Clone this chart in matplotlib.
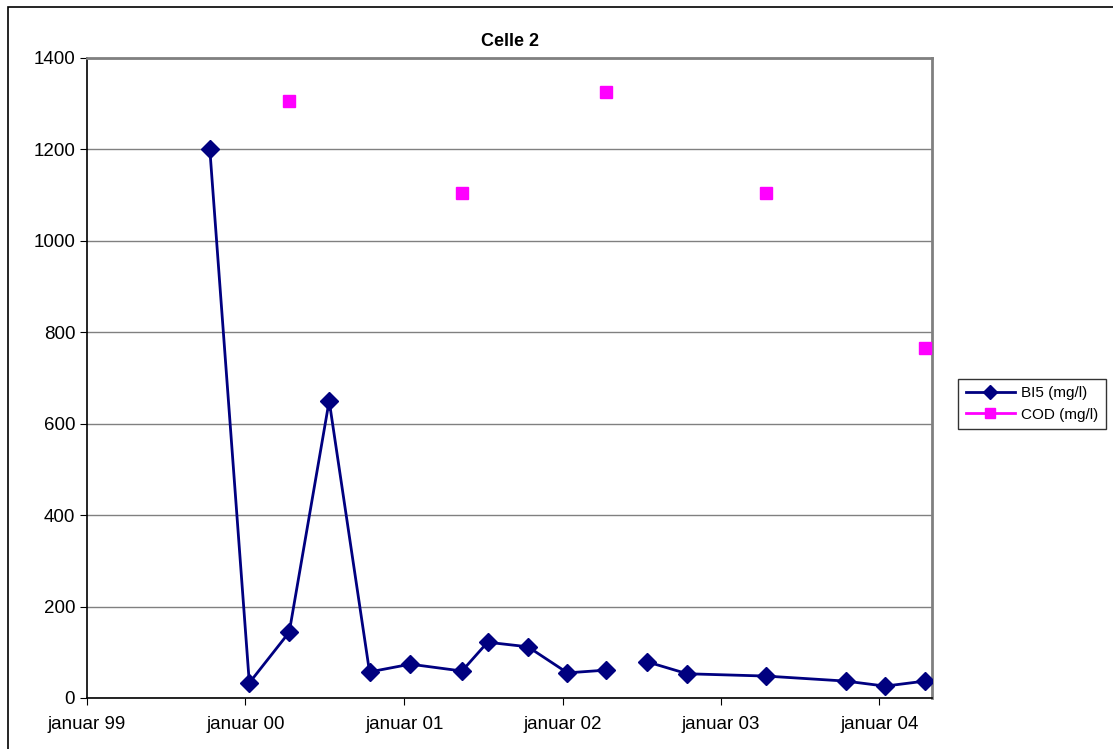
import matplotlib.pyplot as plt
import matplotlib.dates as mdates
from matplotlib.lines import Line2D
import numpy as np
from datetime import date

plt.rcParams['font.family'] = ['Liberation Sans', 'DejaVu Sans']

# BI5 measurements (nan = missing sample -> gap in line)
bi5_dates = [date(1999, 10, 11), date(2000, 1, 10), date(2000, 4, 11), date(2000, 7, 12),
             date(2000, 10, 13), date(2001, 1, 15), date(2001, 5, 14), date(2001, 7, 12),
             date(2001, 10, 13), date(2002, 1, 12), date(2002, 4, 11), date(2002, 5, 25),
             date(2002, 7, 15), date(2002, 10, 15), date(2003, 4, 14), date(2003, 10, 15),
             date(2004, 1, 14), date(2004, 4, 15)]
bi5_values = [1200, 33, 144, 650, 57, 74, 59, 122, 112, 55, 61, np.nan,
              79, 53, 48, 37, 26, 37]

cod_dates = [date(2000, 4, 11), date(2001, 5, 14), date(2002, 4, 11),
             date(2003, 4, 14), date(2004, 4, 15)]
cod_values = [1305, 1105, 1325, 1105, 765]

navy = '#000080'
magenta = '#FF00FF'

fig = plt.figure(figsize=(11.13, 7.49), dpi=100)
ax = fig.add_axes([87 / 1113, 1 - 698 / 749, (932 - 87) / 1113, (698 - 58) / 749])

# outer chart border
fig.patches.append(plt.Rectangle((8 / 1113, -0.1), 1.2, 1 - 7 / 749 + 0.1,
                                 transform=fig.transFigure, fill=False,
                                 edgecolor='black', linewidth=1.2))

ax.plot(bi5_dates, bi5_values, color=navy, marker='D', markersize=9,
        linewidth=2, zorder=3)
ax.plot(cod_dates, cod_values, color=magenta, marker='s', markersize=9,
        linestyle='none', zorder=3)

ax.set_xlim(date(1999, 1, 1), date(2004, 5, 1))
ax.set_ylim(0, 1400)
ax.set_yticks(np.arange(0, 1401, 200))
ax.xaxis.set_major_locator(mdates.YearLocator())
ax.xaxis.set_major_formatter(mdates.DateFormatter('januar %y'))
ax.grid(axis='y', color='#808080', linewidth=1)
ax.set_axisbelow(True)

for side in ['top', 'right']:
    ax.spines[side].set_color('#808080')
    ax.spines[side].set_linewidth(2)
for side in ['left', 'bottom']:
    ax.spines[side].set_linewidth(1.2)
ax.tick_params(labelsize=13.5, length=5, direction='out')
ax.tick_params(axis='x', pad=8)

ax.set_title('Celle 2', fontsize=13, fontweight='bold', pad=9)

handles = [Line2D([], [], color=navy, marker='D', markersize=7, linewidth=2),
           Line2D([], [], color=magenta, marker='s', markersize=7, linewidth=2)]
leg = fig.legend(handles, ['BI5 (mg/l)', 'COD (mg/l)'], loc='center left',
                 bbox_to_anchor=(958 / 1113, 1 - 404 / 749),
                 fontsize=11, frameon=True, fancybox=False, edgecolor='black',
                 handlelength=3.2, borderaxespad=0, labelspacing=0.5,
                 handletextpad=0.4, borderpad=0.5)
leg.get_frame().set_linewidth(1)

fig.savefig('out.png', dpi=100)
